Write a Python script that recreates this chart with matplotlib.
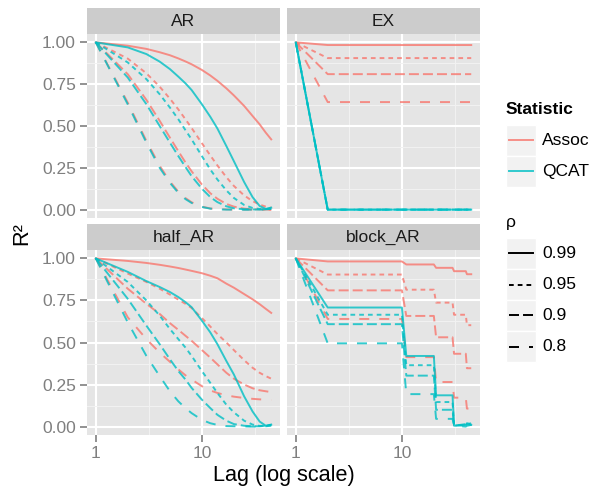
import matplotlib
matplotlib.use('Agg')
import matplotlib.pyplot as plt
from matplotlib.patches import Rectangle
from matplotlib.lines import Line2D

plt.rcParams['font.family'] = ['Liberation Sans', 'DejaVu Sans']
plt.rcParams['lines.scale_dashes'] = False

# ---- data ----
lags = [1, 2, 3, 4, 5, 6, 7, 8, 10, 12, 14, 17, 20, 25, 30, 35, 40, 45]
ex_lags = [1, 2, 45]
block_lags = [1, 2, 10, 11, 20, 21, 30, 31, 40, 41, 45]

rhos = ['0.99', '0.95', '0.9', '0.8']

ar_assoc = {
    '0.99': [1, 0.98, 0.961, 0.941, 0.923, 0.904, 0.886, 0.869, 0.835, 0.802, 0.77, 0.725, 0.683, 0.62, 0.56, 0.51, 0.46, 0.42],
    '0.95': [1, 0.903, 0.815, 0.735, 0.663, 0.599, 0.54, 0.488, 0.397, 0.324, 0.264, 0.194, 0.142, 0.085, 0.051, 0.03, 0.018, 0.011],
    '0.9': [1, 0.81, 0.656, 0.531, 0.43, 0.349, 0.282, 0.229, 0.15, 0.098, 0.065, 0.034, 0.018, 0.006, 0.002, 0.001, 0.0, 0.0],
    '0.8': [1, 0.64, 0.41, 0.262, 0.168, 0.107, 0.069, 0.044, 0.018, 0.007, 0.003, 0.001, 0, 0, 0, 0, 0, 0],
}
ar_qcat = {
    '0.99': [1, 0.97, 0.93, 0.885, 0.84, 0.795, 0.755, 0.715, 0.63, 0.555, 0.485, 0.38, 0.29, 0.165, 0.075, 0.022, 0.004, 0.012],
    '0.95': [1, 0.88, 0.78, 0.69, 0.61, 0.54, 0.475, 0.42, 0.32, 0.24, 0.18, 0.115, 0.07, 0.028, 0.01, 0.004, 0.003, 0.01],
    '0.9': [1, 0.79, 0.63, 0.5, 0.4, 0.32, 0.255, 0.2, 0.125, 0.075, 0.045, 0.02, 0.008, 0.002, 0.001, 0, 0.002, 0.006],
    '0.8': [1, 0.63, 0.4, 0.25, 0.16, 0.1, 0.063, 0.04, 0.016, 0.006, 0.002, 0, 0, 0, 0, 0, 0.002, 0.004],
}

ex_assoc = {
    '0.99': [1, 0.984, 0.984],
    '0.95': [1, 0.906, 0.906],
    '0.9': [1, 0.81, 0.81],
    '0.8': [1, 0.643, 0.643],
}
ex_qcat = {
    '0.99': [1, 0, 0],
    '0.95': [1, 0, 0],
    '0.9': [1, 0, 0],
    '0.8': [1, 0, 0],
}

half_assoc = {
    '0.99': [1, 0.985, 0.973, 0.962, 0.952, 0.943, 0.934, 0.926, 0.912, 0.897, 0.882, 0.85, 0.826, 0.788, 0.757, 0.728, 0.70, 0.676],
    '0.95': [1, 0.91, 0.86, 0.82, 0.785, 0.755, 0.73, 0.705, 0.645, 0.595, 0.55, 0.5, 0.455, 0.395, 0.35, 0.32, 0.3, 0.285],
    '0.9': [1, 0.82, 0.73, 0.67, 0.615, 0.575, 0.54, 0.51, 0.455, 0.41, 0.37, 0.32, 0.285, 0.25, 0.228, 0.216, 0.21, 0.205],
    '0.8': [1, 0.65, 0.52, 0.44, 0.385, 0.34, 0.305, 0.28, 0.24, 0.215, 0.2, 0.186, 0.178, 0.17, 0.165, 0.162, 0.16, 0.158],
}
half_qcat = {
    '0.99': [1, 0.92, 0.865, 0.83, 0.8, 0.77, 0.74, 0.71, 0.63, 0.56, 0.49, 0.39, 0.31, 0.18, 0.09, 0.03, 0.005, 0.012],
    '0.95': [1, 0.86, 0.75, 0.66, 0.58, 0.52, 0.47, 0.42, 0.33, 0.26, 0.2, 0.13, 0.085, 0.035, 0.012, 0.004, 0.005, 0.01],
    '0.9': [1, 0.76, 0.6, 0.49, 0.4, 0.33, 0.28, 0.23, 0.16, 0.11, 0.07, 0.035, 0.015, 0.005, 0.002, 0.002, 0.005, 0.01],
    '0.8': [1, 0.62, 0.42, 0.3, 0.21, 0.15, 0.11, 0.08, 0.04, 0.02, 0.01, 0.003, 0.002, 0.001, 0, 0, 0.002, 0.005],
}

block_assoc = {
    '0.99': [1, 0.982, 0.982, 0.964, 0.964, 0.944, 0.944, 0.924, 0.924, 0.906, 0.906],
    '0.95': [1, 0.904, 0.904, 0.814, 0.814, 0.737, 0.737, 0.665, 0.665, 0.603, 0.603],
    '0.9': [1, 0.81, 0.81, 0.658, 0.658, 0.531, 0.531, 0.433, 0.433, 0.347, 0.347],
    '0.8': [1, 0.64, 0.64, 0.413, 0.413, 0.265, 0.265, 0.172, 0.172, 0.107, 0.107],
}
block_qcat = {
    '0.99': [1, 0.708, 0.708, 0.42, 0.42, 0.186, 0.186, 0.005, 0.01, 0.015, 0.01],
    '0.95': [1, 0.665, 0.665, 0.365, 0.365, 0.146, 0.146, 0.01, 0.005, 0.02, 0.015],
    '0.9': [1, 0.609, 0.609, 0.303, 0.303, 0.10, 0.10, 0.005, 0.015, 0.01, 0.02],
    '0.8': [1, 0.495, 0.495, 0.193, 0.193, 0.046, 0.046, 0.005, 0.0, 0.005, 0.01],
}

panels = [
    ('AR', lags, ar_assoc, ar_qcat),
    ('EX', ex_lags, ex_assoc, ex_qcat),
    ('half_AR', lags, half_assoc, half_qcat),
    ('block_AR', block_lags, block_assoc, block_qcat),
]

# ---- style ----
colors = {'Assoc': '#F8766D', 'QCAT': '#00BFC4'}
dashes = {'0.99': '-', '0.95': (0, (3.4, 2.9)), '0.9': (0, (7.2, 2.9)), '0.8': (0, (7.2, 7.2))}
LW = 1.4
ALPHA = 0.8
W, H = 594, 490


def frac(x0, y0, x1, y1):
    # pixel box (top-left origin) -> figure fraction rect
    return [x0 / W, 1 - y1 / H, (x1 - x0) / W, (y1 - y0) / H]


fig = plt.figure(figsize=(W / 100, H / 100), dpi=100)

cols = [(87, 280), (287, 480)]
rows = [(34, 218, 8), (250, 435, 224)]

for i, (name, x, assoc, qcat) in enumerate(panels):
    r, c = divmod(i, 2)
    x0, x1 = cols[c]
    y0, y1, s0 = rows[r]
    ax = fig.add_axes(frac(x0, y0, x1, y1))
    ax.set_facecolor('#E5E5E5')
    ax.set_xscale('log')
    ax.set_xlim(10 ** -0.0827, 10 ** 1.7359)
    ax.set_ylim(-0.05, 1.05)
    ax.set_xticks([1, 10])
    ax.set_xticks([10 ** 0.5, 10 ** 1.5], minor=True)
    ax.set_yticks([0, 0.25, 0.5, 0.75, 1.0])
    ax.set_yticks([0.125, 0.375, 0.625, 0.875], minor=True)
    ax.set_xticklabels(['1', '10'])
    ax.set_yticklabels(['0.00', '0.25', '0.50', '0.75', '1.00'])
    ax.grid(which='major', color='white', lw=1.5)
    ax.grid(which='minor', color='#F2F2F2', lw=0.7)
    ax.set_axisbelow(True)
    for sp in ax.spines.values():
        sp.set_visible(False)
    ax.tick_params(which='major', length=5, width=1.2, color='#7F7F7F',
                   labelcolor='#7F7F7F', labelsize=12.5, pad=3)
    ax.tick_params(which='minor', length=0)
    if r == 0:
        ax.tick_params(axis='x', which='both', bottom=False, labelbottom=False)
    if c == 1:
        ax.tick_params(axis='y', which='both', left=False, labelleft=False)

    for stat, data in (('Assoc', assoc), ('QCAT', qcat)):
        for rho in rhos:
            ax.plot(x, data[rho], color=colors[stat], linestyle=dashes[rho], lw=LW, alpha=ALPHA)

    sax = fig.add_axes(frac(x0, s0, x1, y0))
    sax.set_facecolor('#CCCCCC')
    sax.set_xticks([])
    sax.set_yticks([])
    for sp in sax.spines.values():
        sp.set_visible(False)
    sax.text(0.5, 0.5, name, ha='center', va='center', fontsize=12.5, color='#1A1A1A',
             transform=sax.transAxes)

fig.text(283.5 / W, 1 - 475 / H, 'Lag (log scale)', ha='center', va='center', fontsize=15.6)
fig.text(22 / W, 1 - 234 / H, 'R²', ha='center', va='center', fontsize=15.6, rotation=90)

# ---- legends ----
def key(y_top, color, ls, alpha=1.0):
    fig.add_artist(Rectangle((506 / W, 1 - (y_top + 31) / H), 30 / W, 31 / H,
                             transform=fig.transFigure, facecolor='#F2F2F2',
                             edgecolor='white', lw=1))
    yc = 1 - (y_top + 15.5) / H
    fig.add_artist(Line2D([509 / W, 533 / W], [yc, yc], transform=fig.transFigure,
                          color=color, linestyle=ls, lw=LW, alpha=alpha))


fig.text(506 / W, 1 - 109 / H, 'Statistic', ha='left', va='center', fontsize=12.5, weight='bold')
for j, stat in enumerate(['Assoc', 'QCAT']):
    top = 125 + 31 * j
    key(top, colors[stat], '-', ALPHA)
    fig.text(542 / W, 1 - (top + 15.5) / H, stat, ha='left', va='center', fontsize=12.5)

fig.text(506 / W, 1 - 222 / H, 'ρ', ha='left', va='center', fontsize=12.5)
for j, rho in enumerate(rhos):
    top = 238 + 31 * j
    key(top, 'black', dashes[rho])
    fig.text(542 / W, 1 - (top + 15.5) / H, rho, ha='left', va='center', fontsize=12.5)

fig.savefig('out.png', dpi=100)
